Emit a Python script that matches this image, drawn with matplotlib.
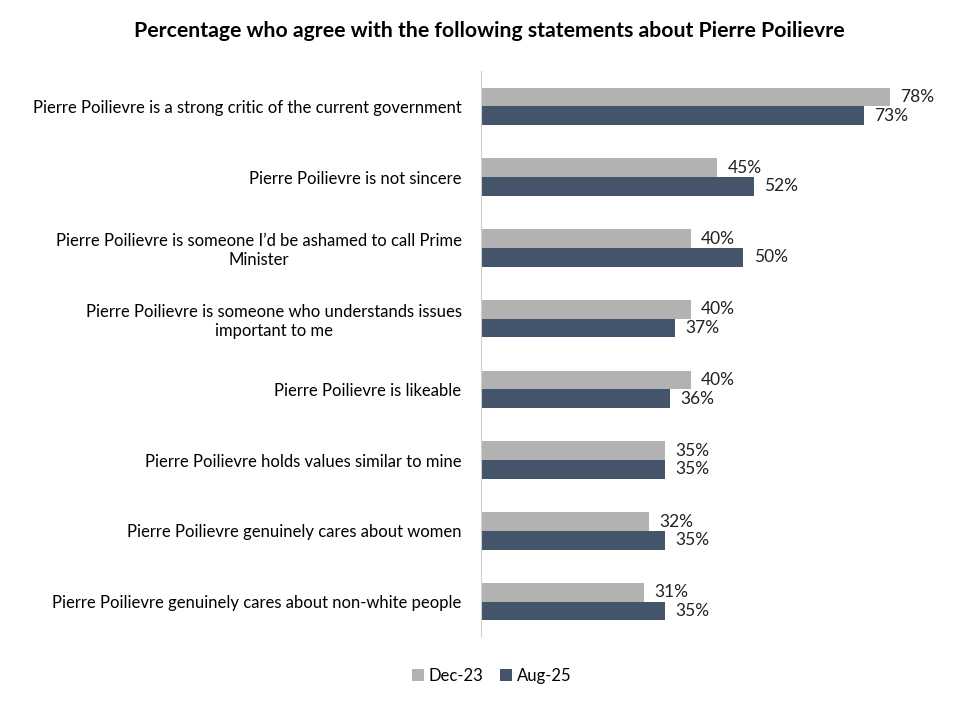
import numpy as np
import matplotlib
matplotlib.use("Agg")
from matplotlib import pyplot as plt

plt.rcParams['font.family'] = ['Lato', 'DejaVu Sans']

statements = [
    "Pierre Poilievre is a strong critic of the current government",
    "Pierre Poilievre is not sincere",
    "Pierre Poilievre is someone I\u2019d be ashamed to call Prime\nMinister",
    "Pierre Poilievre is someone who understands issues\nimportant to me",
    "Pierre Poilievre is likeable",
    "Pierre Poilievre holds values similar to mine",
    "Pierre Poilievre genuinely cares about women",
    "Pierre Poilievre genuinely cares about non-white people",
]
dec_23 = [78, 45, 40, 40, 40, 35, 32, 31]
aug_25 = [73, 52, 50, 37, 36, 35, 35, 35]
series_names = ["Dec-23", "Aug-25"]

grey = "#B2B2B2"
navy = "#44546A"

fig = plt.figure(figsize=(9.77, 7.07), dpi=100)
ax = fig.add_axes([481 / 977, 70 / 707, 472 / 977, 566 / 707])

y = np.arange(len(statements))
h = 0.265
ax.barh(y - h / 2, dec_23, height=h, color=grey, label=series_names[0])
ax.barh(y + h / 2, aug_25, height=h, color=navy, label=series_names[1])

# value labels just right of each bar
for i in range(len(statements)):
    ax.text(dec_23[i] + 2.0, y[i] - h / 2, f"{dec_23[i]}%", va="center", ha="left",
            fontsize=12.5, color="#222222")
    ax.text(aug_25[i] + 2.0, y[i] + h / 2, f"{aug_25[i]}%", va="center", ha="left",
            fontsize=12.5, color="#222222")

ax.set_xlim(0, 90)
ax.set_ylim(len(statements) - 0.5, -0.5)
ax.set_yticks(y)
ax.set_yticklabels(statements, fontsize=12, multialignment="center")
ax.tick_params(axis="y", length=0, pad=14)
ax.set_xticks([])
for s in ["top", "right", "bottom"]:
    ax.spines[s].set_visible(False)
ax.spines["left"].set_color("#D0D0D0")

fig.text(489 / 977, 1 - 31 / 707, "Percentage who agree with the following statements about Pierre Poilievre",
         ha="center", va="center", fontsize=15.3, fontweight="bold")

fig.legend(loc="center", bbox_to_anchor=(492 / 977, 1 - 676 / 707), ncol=2, frameon=False,
           fontsize=12, handlelength=0.7, handleheight=0.7, handletextpad=0.3, columnspacing=1.0)

fig.savefig("out.png", dpi=100)
